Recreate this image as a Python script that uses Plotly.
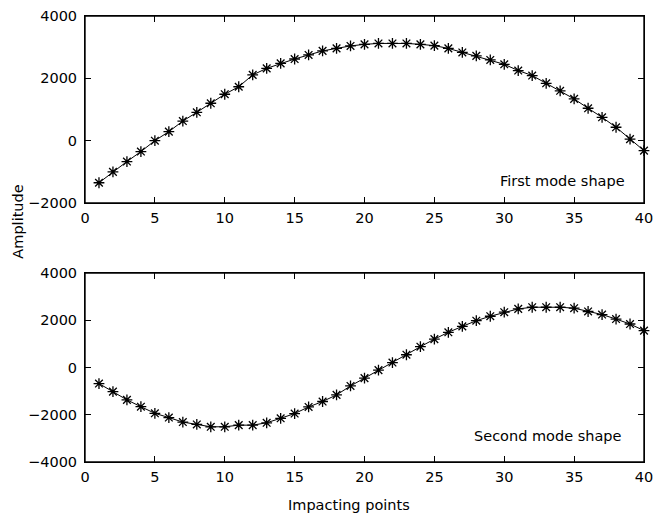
import plotly.graph_objects as go

points = list(range(1, 41))
first_mode = [-1350, -1000, -670, -350, 0, 290, 630, 910, 1200, 1490,
              1730, 2110, 2320, 2480, 2620, 2750, 2880, 2960, 3040, 3090,
              3120, 3120, 3120, 3090, 3050, 2960, 2830, 2720, 2590, 2450,
              2250, 2090, 1840, 1600, 1340, 1040, 750, 430, 50, -320]
second_mode = [-680, -1020, -1370, -1660, -1940, -2120, -2310, -2410, -2510, -2510,
               -2440, -2440, -2340, -2150, -1950, -1670, -1440, -1160, -780, -450,
               -110, 210, 540, 880, 1200, 1490, 1740, 1980, 2170, 2340,
               2480, 2550, 2550, 2550, 2510, 2370, 2240, 2050, 1840, 1560]
x_ticks = [0, 5, 10, 15, 20, 25, 30, 35, 40]
y_ticks_top = [-2000, 0, 2000, 4000]
y_ticks_bottom = [-4000, -2000, 0, 2000, 4000]

FONT = "DejaVu Sans, Liberation Sans, sans-serif"
FS = 14.5

fig = go.Figure()
mk = dict(symbol="asterisk-open", size=9, color="black", line=dict(color="black", width=1.3))
fig.add_trace(go.Scatter(x=points, y=first_mode, mode="lines+markers",
                         line=dict(color="black", width=1), marker=mk, cliponaxis=False,
                         xaxis="x", yaxis="y", showlegend=False))
fig.add_trace(go.Scatter(x=points, y=second_mode, mode="lines+markers",
                         line=dict(color="black", width=1), marker=mk, cliponaxis=False,
                         xaxis="x2", yaxis="y2", showlegend=False))

ax_common = dict(showgrid=False, zeroline=False, showline=True, linecolor="black",
                 linewidth=1, mirror="ticks", ticks="inside", ticklen=6,
                 tickcolor="black", ticklabeloverflow="allow",
                 tickfont=dict(family=FONT, size=FS, color="black"))

txt = dict(family=FONT, size=FS, color="black")

box_shapes = [
    dict(type="rect", xref=f"{xa} domain", yref=f"{ya} domain", x0=0, x1=1, y0=0, y1=1,
         line=dict(color="black", width=1.4), fillcolor="rgba(0,0,0,0)", layer="above")
    for xa, ya in (("x", "y"), ("x2", "y2"))
]

fig.update_layout(
    width=655, height=518,
    margin=dict(l=85, r=11, t=16, b=56, autoexpand=False),
    paper_bgcolor="white", plot_bgcolor="white",
    font=txt,
    xaxis=dict(domain=[0, 1], range=[0, 40], tickvals=x_ticks, anchor="y",
               ticklabelstandoff=2, **ax_common),
    yaxis=dict(domain=[0.5807, 1], range=[-2000, 4000], tickvals=y_ticks_top,
               anchor="x", ticklabelstandoff=4, **ax_common),
    xaxis2=dict(domain=[0, 1], range=[0, 40], tickvals=x_ticks, anchor="y2",
                ticklabelstandoff=2, **ax_common),
    yaxis2=dict(domain=[0, 0.4238], range=[-4000, 4000], tickvals=y_ticks_bottom,
                anchor="x2", ticklabelstandoff=4, **ax_common),
    shapes=box_shapes,
    annotations=[
        dict(text="First mode shape", x=0.97, y=-1290, xref="x domain", yref="y",
             xanchor="right", yanchor="middle", showarrow=False, font=txt),
        dict(text="Second mode shape", x=0.965, y=-2890, xref="x2 domain", yref="y2",
             xanchor="right", yanchor="middle", showarrow=False, font=txt),
        dict(text="Amplitude", x=-0.119, y=0.540, xref="paper", yref="paper",
             textangle=-90, xanchor="center", yanchor="middle", showarrow=False, font=txt),
        dict(text="Impacting points", x=0.4725, y=-0.0964, xref="paper", yref="paper",
             xanchor="center", yanchor="middle", showarrow=False, font=txt),
    ],
)

fig.write_html("out.html", config={"displayModeBar": False},
               post_script="document.body.style.margin='0';")
